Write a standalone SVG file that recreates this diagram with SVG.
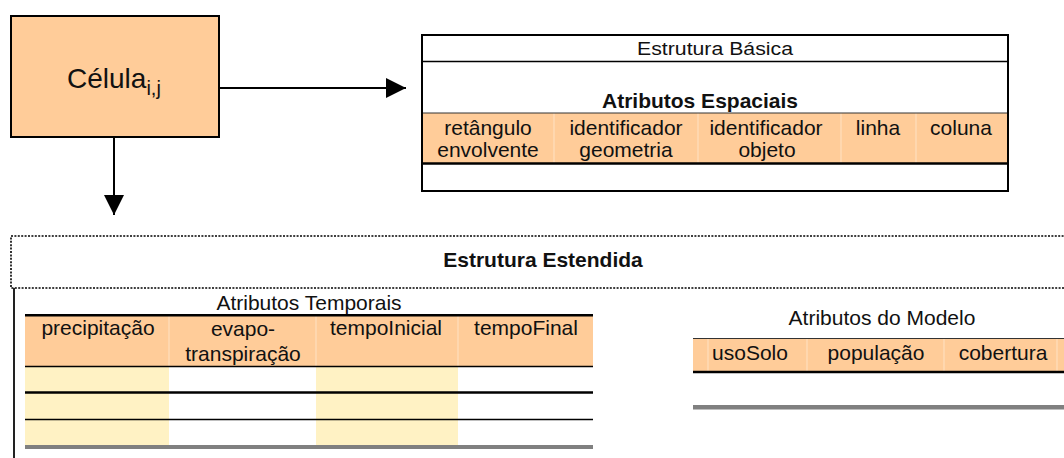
<svg xmlns="http://www.w3.org/2000/svg" width="1064" height="458" viewBox="0 0 1064 458">
<style>
  text { font-family: "Liberation Sans", Arial, sans-serif; fill: #111; }
  .t21 { font-size: 21px; text-anchor: middle; }
  .b21 { font-size: 21px; font-weight: bold; text-anchor: middle; }
  .peach { fill: #FFCC99; }
  .yel { fill: #FFF2C4; }
  .sep { stroke: #FFE2C4; stroke-width: 1; }
  .blk { stroke: #000; fill: none; }
  .gray { fill: #808080; }
</style>
<defs>
  <marker id="arr" markerUnits="userSpaceOnUse" markerWidth="20" markerHeight="20" refX="20" refY="10" orient="auto">
    <path d="M0,0 L20,10 L0,20 Z" fill="#000"/>
  </marker>
</defs>

<g id="celula">
  <rect x="11" y="16" width="208" height="121" class="peach" stroke="#000" stroke-width="2"/>
  <text x="67" y="88" font-size="28">Célula<tspan dy="7" font-size="20">i,j</tspan></text>
</g>

<g id="connectors">
  <line x1="219" y1="88" x2="406" y2="88" stroke="#000" stroke-width="2" marker-end="url(#arr)"/>
  <line x1="114" y1="137" x2="114" y2="215" stroke="#000" stroke-width="2" marker-end="url(#arr)"/>
</g>

<g id="estrutura-basica">
  <rect x="422" y="35" width="586" height="156" fill="#fff"/>
  <rect x="422" y="113" width="586" height="50" class="peach"/>
  <line x1="554" y1="113" x2="554" y2="163" class="sep"/>
  <line x1="698" y1="113" x2="698" y2="163" class="sep"/>
  <line x1="841" y1="113" x2="841" y2="163" class="sep"/>
  <line x1="916" y1="113" x2="916" y2="163" class="sep"/>
  <line x1="422" y1="61.5" x2="1008" y2="61.5" class="blk" stroke-width="1.5"/>
  <line x1="422" y1="113" x2="1008" y2="113" stroke="#333" stroke-width="1"/>
  <line x1="422" y1="163.5" x2="1008" y2="163.5" class="blk" stroke-width="2.5"/>
  <rect x="422" y="35" width="586" height="156" class="blk" stroke-width="2"/>
  <text x="715" y="55" font-size="17.5" text-anchor="middle" textLength="156" lengthAdjust="spacingAndGlyphs">Estrutura Básica</text>
  <text x="700" y="108" class="b21">Atributos Espaciais</text>
  <text x="488" y="135" class="t21">retângulo</text>
  <text x="488" y="157" class="t21">envolvente</text>
  <text x="626" y="135" class="t21">identificador</text>
  <text x="626" y="157" class="t21">geometria</text>
  <text x="766" y="135" class="t21">identificador</text>
  <text x="767" y="157" class="t21">objeto</text>
  <text x="878" y="135" class="t21">linha</text>
  <text x="961" y="135" class="t21">coluna</text>
</g>

<g id="estrutura-estendida">
  <rect x="11" y="236" width="1070" height="52" fill="none" stroke="#000" stroke-width="1.6" stroke-dasharray="2,1.4"/>
  <line x1="14" y1="288" x2="14" y2="458" stroke="#222" stroke-width="2"/>
  <text x="543" y="267" class="b21">Estrutura Estendida</text>
</g>

<g id="atributos-temporais">
  <text x="309" y="310" class="t21">Atributos Temporais</text>
  <rect x="25" y="316" width="568" height="50" class="peach"/>
  <line x1="169" y1="316" x2="169" y2="366" class="sep"/>
  <line x1="316" y1="316" x2="316" y2="366" class="sep"/>
  <line x1="458" y1="316" x2="458" y2="366" class="sep"/>
  <rect x="25" y="366" width="144" height="79" class="yel"/>
  <rect x="316" y="366" width="142" height="79" class="yel"/>
  <rect x="25" y="314" width="568" height="2.5" fill="#000"/>
  <line x1="25" y1="366.5" x2="593" y2="366.5" class="blk" stroke-width="1.5"/>
  <line x1="25" y1="392.5" x2="593" y2="392.5" class="blk" stroke-width="2.5"/>
  <line x1="25" y1="419.5" x2="593" y2="419.5" class="blk" stroke-width="1.5"/>
  <rect x="25" y="445" width="568" height="4" class="gray"/>
  <text x="98" y="335" class="t21">precipitação</text>
  <text x="243" y="336" class="t21">evapo-</text>
  <text x="243" y="361" class="t21">transpiração</text>
  <text x="386" y="335" class="t21">tempoInicial</text>
  <text x="526" y="335" class="t21">tempoFinal</text>
</g>

<g id="atributos-modelo">
  <text x="882" y="325" class="t21">Atributos do Modelo</text>
  <rect x="693" y="338" width="371" height="33" class="peach"/>
  <line x1="708" y1="338" x2="708" y2="371" class="sep"/>
  <line x1="807" y1="338" x2="807" y2="371" class="sep"/>
  <line x1="944" y1="338" x2="944" y2="371" class="sep"/>
  <line x1="1057" y1="338" x2="1057" y2="371" class="sep"/>
  <line x1="693" y1="338.5" x2="1064" y2="338.5" stroke="#333" stroke-width="1"/>
  <line x1="693" y1="372" x2="1064" y2="372" class="blk" stroke-width="2.5"/>
  <rect x="693" y="405" width="371" height="4.5" class="gray"/>
  <text x="750" y="360" class="t21">usoSolo</text>
  <text x="876" y="360" class="t21">população</text>
  <text x="1003" y="360" class="t21">cobertura</text>
</g>
</svg>
